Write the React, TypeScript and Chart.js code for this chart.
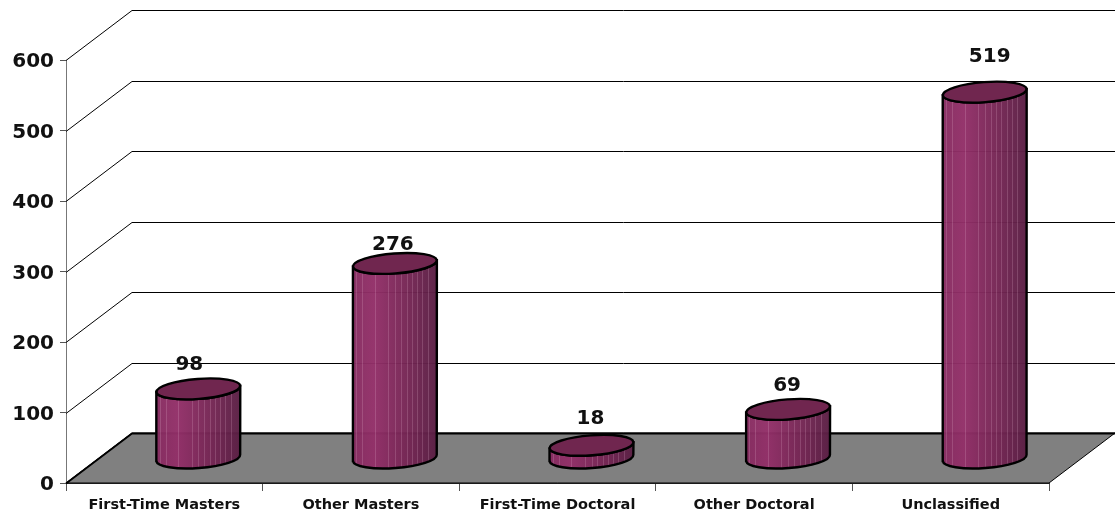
import React, { useEffect, useRef } from "react";
import { Chart, registerables } from "chart.js";

Chart.register(...registerables);

const categories = ["First-Time Masters", "Other Masters", "First-Time Doctoral", "Other Doctoral", "Unclassified"];
const values = [98, 276, 18, 69, 519];
const yTicks = [0, 100, 200, 300, 400, 500, 600];

const DEPTH_X = 66;
const DEPTH_Y = 50;
const BAR_SHIFT_X = 1;
const FONT = '"DejaVu Sans", Verdana, sans-serif';
const LABEL_SHIFT_X = [-9, -2, -1, -1, 5];
const LABEL_SHIFT_Y = [25, 20, 28, 25, 36];
const STRIPES = [0.04, 0.11, 0.26, 0.42, 0.5, 0.57, 0.64, 0.7, 0.76, 0.82, 0.89];

const wallPlugin = {
  id: "wall",
  beforeDatasetsDraw(chart: any) {
    const { ctx, scales } = chart;
    const x = scales.x;
    const y = scales.y;
    const y0 = y.getPixelForValue(0);
    ctx.save();
    ctx.fillStyle = "#808080";
    ctx.beginPath();
    ctx.moveTo(x.left, y0);
    ctx.lineTo(x.right, y0);
    ctx.lineTo(x.right + DEPTH_X, y0 - DEPTH_Y);
    ctx.lineTo(x.left + DEPTH_X, y0 - DEPTH_Y);
    ctx.closePath();
    ctx.fill();
    ctx.strokeStyle = "#000";
    ctx.lineWidth = 1;
    ctx.stroke();
    for (const v of yTicks) {
      const py = Math.round(y.getPixelForValue(v)) + 0.5;
      ctx.lineWidth = v === 0 ? 1.8 : 1;
      ctx.beginPath();
      ctx.moveTo(x.left, py);
      ctx.lineTo(x.left + DEPTH_X, py - DEPTH_Y);
      ctx.lineTo(x.right + DEPTH_X, py - DEPTH_Y);
      ctx.stroke();
    }
    ctx.restore();
  },
};

const cylinderPlugin = {
  id: "cylinders",
  afterDatasetsDraw(chart: any) {
    const { ctx, scales } = chart;
    const base = scales.y.getPixelForValue(0);
    const bars = chart.getDatasetMeta(0).data;
    const tilt = -0.075;
    const ry = 10;
    bars.forEach((bar: any, i: number) => {
      const rx = bar.width / 2;
      const cx = bar.x + DEPTH_X / 2 + BAR_SHIFT_X;
      const topY = bar.y - DEPTH_Y / 2;
      const botY = base - DEPTH_Y / 2;
      const left = cx - rx;
      const right = cx + rx;
      const lyDelta = Math.sin(tilt) * rx;

      const grad = ctx.createLinearGradient(left, 0, right, 0);
      grad.addColorStop(0, "#862c60");
      grad.addColorStop(0.25, "#922f68");
      grad.addColorStop(0.65, "#752654");
      grad.addColorStop(1, "#5a1f44");

      const sidePath = () => {
        ctx.beginPath();
        ctx.moveTo(left, topY - lyDelta);
        ctx.lineTo(left, botY - lyDelta);
        ctx.ellipse(cx, botY, rx, ry, tilt, Math.PI, 0, true);
        ctx.lineTo(right, topY + lyDelta);
        ctx.ellipse(cx, topY, rx, ry, tilt, 0, Math.PI, false);
        ctx.closePath();
      };

      ctx.save();
      sidePath();
      ctx.fillStyle = grad;
      ctx.globalAlpha = 0.97;
      ctx.fill();
      ctx.globalAlpha = 1;
      ctx.save();
      sidePath();
      ctx.clip();
      ctx.lineWidth = 1;
      ctx.strokeStyle = "rgba(235,190,215,0.2)";
      for (const s of STRIPES) {
        const sx = Math.round(left + s * bar.width) + 0.5;
        ctx.beginPath();
        ctx.moveTo(sx, topY - ry - 4);
        ctx.lineTo(sx, botY + ry + 4);
        ctx.stroke();
      }
      ctx.restore();
      ctx.strokeStyle = "#000";
      ctx.lineWidth = 2.4;
      sidePath();
      ctx.stroke();

      ctx.beginPath();
      ctx.ellipse(cx, topY, rx, ry, tilt, 0, Math.PI * 2);
      ctx.fillStyle = "#70264f";
      ctx.fill();
      ctx.stroke();

      ctx.fillStyle = "#111";
      ctx.font = `bold 20px ${FONT}`;
      ctx.textAlign = "center";
      ctx.textBaseline = "middle";
      ctx.fillText(String(values[i]), cx + LABEL_SHIFT_X[i], topY - LABEL_SHIFT_Y[i] + 1);
      ctx.restore();
    });
  },
};

export default function App() {
  const ref = useRef<HTMLCanvasElement>(null);
  useEffect(() => {
    document.body.style.margin = "0";
    document.body.style.background = "#fff";
    const chart = new Chart(ref.current!, {
      type: "bar",
      data: {
        labels: categories,
        datasets: [
          {
            data: values,
            backgroundColor: "transparent",
            borderWidth: 0,
            categoryPercentage: 1,
            barPercentage: 0.427,
          },
        ],
      },
      options: {
        responsive: false,
        animation: false,
        layout: { padding: { top: 60, right: 66, left: 0, bottom: 0 } },
        plugins: { legend: { display: false }, tooltip: { enabled: false } },
        scales: {
          x: {
            afterFit: (s: any) => {
              s.height = 33;
            },
            grid: { drawOnChartArea: false, drawTicks: true, tickLength: 8, color: "#555", offset: true },
            border: { color: "#333" },
            ticks: {
              color: "#111",
              padding: 6,
              maxRotation: 0,
              font: { family: FONT, size: 14.5, weight: "bold" },
            },
          },
          y: {
            min: 0,
            max: 600,
            afterFit: (s: any) => {
              s.width = 66;
            },
            afterBuildTicks: (s: any) => {
              s.ticks = yTicks.map((value) => ({ value }));
            },
            afterUpdate: (s: any) => {
              const orig = Object.getPrototypeOf(s).getLabelItems.bind(s);
              s.getLabelItems = (area: any) =>
                orig(area).map((it: any) => ({
                  ...it,
                  options: {
                    ...it.options,
                    translation: [it.options.translation[0], it.options.translation[1] + 2],
                  },
                }));
            },
            grid: { drawOnChartArea: false, drawTicks: true, tickLength: 6, color: "#555" },
            border: { color: "#777" },
            ticks: {
              color: "#111",
              padding: 6,
              font: { family: FONT, size: 20, weight: "bold" },
            },
          },
        },
      },
      plugins: [wallPlugin, cylinderPlugin],
    } as any);
    return () => chart.destroy();
  }, []);
  return <canvas ref={ref} width={1115} height={516} style={{ display: "block" }} />;
}
